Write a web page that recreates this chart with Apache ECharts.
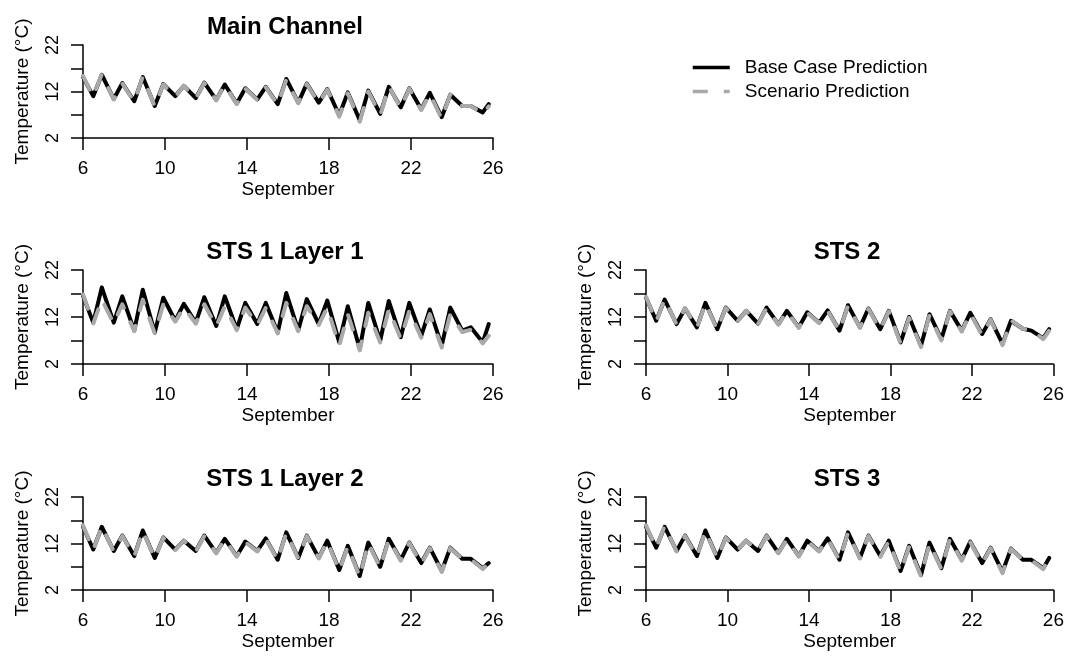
<!DOCTYPE html>
<html><head><meta charset="utf-8">
<script src="https://cdn.jsdelivr.net/npm/echarts@6/dist/echarts.min.js"></script>
<style>html,body{margin:0;padding:0;background:#fff}#c{width:1067px;height:656px}</style>
</head><body><div id="c"></div><script>
// ---- data ----
const days = [6,7,8,9,10,11,12,13,14,15,16,17,18,19,20,21,22,23,24,25];
const startHour = 0, minHour = 12, peakHour = 22, endHour = 19;
const xTicks = [6,10,14,18,22,26];
const yTicks = [2,7,12,17,22];
const yLabels = [2,12,22];
const panelTitles = ['Main Channel','STS 1 Layer 1','STS 2','STS 1 Layer 2','STS 3'];
const seriesNames = ['Base Case Prediction','Scenario Prediction'];
// values: [start, then per day: daily minimum, daily maximum (last = end value)]
const mainBase = [15.1, 11.0,15.6, 10.4,13.8, 9.9,15.1, 8.9,13.6, 11.0,13.2, 10.6,13.9, 10.2,13.5, 9.4,12.7, 10.3,13.0, 9.3,14.7, 9.6,13.7, 9.6,12.5, 6.9,11.8, 5.8,12.2, 7.2,13.0, 8.6,12.7, 8.2,11.7, 6.5,11.3, 8.9,8.9, 7.5,9.3];
const mainScen = [15.3, 10.9,15.7, 10.3,13.7, 9.8,15.2, 8.8,13.5, 10.9,13.2, 10.5,13.8, 10.1,13.4, 9.3,12.6, 10.2,12.9, 9.2,14.5, 9.5,13.6, 9.5,12.4, 6.6,11.6, 5.5,12.0, 6.9,13.1, 8.4,12.6, 8.0,11.5, 6.1,11.4, 8.9,8.9, 7.2,8.8];
const l1Base = [16.5, 10.8,18.3, 10.8,16.4, 9.1,17.8, 8.7,16.1, 11.2,14.8, 10.8,16.2, 10.1,16.4, 9.4,15.0, 10.5,15.0, 8.7,17.1, 9.2,15.8, 10.5,15.5, 6.6,14.3, 5.2,15.0, 7.0,15.4, 7.7,15.0, 8.0,13.6, 5.9,14.0, 9.1,9.8, 6.6,10.5];
const l1Scen = [16.8, 10.6,15.7, 10.6,14.7, 9.0,15.7, 8.5,14.7, 11.0,14.0, 10.6,14.7, 10.0,14.3, 9.2,14.0, 10.3,14.0, 8.5,15.0, 9.0,14.3, 10.3,14.0, 5.9,12.6, 4.9,12.9, 6.6,13.6, 7.4,13.3, 7.6,12.6, 5.5,12.6, 8.8,9.3, 6.4,8.0];
const sts2Base = [16.1, 11.2,15.7, 10.5,13.8, 9.8,15.0, 9.4,14.0, 11.2,13.3, 10.6,14.0, 10.5,13.3, 9.8,13.0, 10.8,13.4, 9.1,14.5, 9.8,13.8, 9.4,13.3, 6.6,12.0, 5.9,12.6, 7.3,13.3, 9.1,12.9, 8.4,11.5, 6.3,11.2, 9.5,9.1, 7.5,9.4];
const sts2Scen = [16.3, 11.0,15.8, 10.4,13.9, 9.7,14.9, 9.3,13.9, 11.1,13.3, 10.5,13.9, 10.4,13.2, 9.7,12.9, 10.7,13.3, 9.0,14.4, 9.7,13.7, 9.3,13.2, 6.3,11.8, 5.6,12.4, 7.0,13.2, 8.9,12.8, 8.1,11.4, 6.0,11.3, 9.5,9.2, 7.3,9.1];
const l2Base = [15.6, 10.7,15.6, 10.4,13.7, 9.3,14.8, 8.9,13.3, 10.7,12.6, 10.4,13.7, 10.0,13.0, 9.3,12.4, 10.4,13.1, 8.5,14.4, 8.9,13.7, 8.9,12.6, 6.3,11.5, 5.0,12.2, 7.0,13.0, 8.5,12.2, 7.8,11.1, 6.1,11.1, 8.7,8.7, 6.7,7.8];
const l2Scen = [15.9, 10.6,15.7, 10.3,13.6, 9.2,14.7, 8.8,13.2, 10.6,12.6, 10.3,13.6, 9.9,12.9, 9.2,12.3, 10.3,13.0, 8.4,14.3, 8.8,13.6, 8.8,12.5, 6.1,11.4, 4.8,12.1, 6.8,12.9, 8.3,12.1, 7.6,11.0, 5.9,11.0, 8.7,8.6, 6.5,7.9];
const sts3Base = [15.6, 11.1,15.6, 10.4,13.7, 9.3,14.8, 8.9,13.3, 10.7,12.6, 10.4,13.7, 10.0,13.0, 9.3,12.6, 10.4,13.1, 8.5,14.4, 8.9,13.7, 9.3,12.6, 6.1,11.5, 5.2,12.2, 6.7,13.0, 8.5,12.4, 7.8,11.1, 5.9,10.9, 8.5,8.5, 6.7,8.9];
const sts3Scen = [15.9, 11.0,15.8, 10.3,13.6, 9.2,14.7, 8.8,13.2, 10.6,12.6, 10.3,13.6, 9.9,12.9, 9.2,12.5, 10.3,13.0, 8.4,14.3, 8.8,13.6, 9.1,12.5, 5.9,11.3, 4.9,12.0, 6.5,12.9, 8.3,12.3, 7.6,11.0, 5.6,10.8, 8.5,8.4, 6.5,9.2];

const panelData = [[mainBase,mainScen],[l1Base,l1Scen],[sts2Base,sts2Scen],[l2Base,l2Scen],[sts3Base,sts3Scen]];

// sample times (day of September)
const times = [days[0] + startHour/24];
days.forEach((d, i) => {
  times.push(d + minHour/24);
  times.push(d + (i === days.length - 1 ? endHour : peakHour)/24);
});
const toPairs = vals => vals.map((v, i) => [times[i], v]);

// ---- layout ----
const FONT = 'Liberation Sans, Arial, sans-serif';
const grids = [
  {left:83, top:45, width:410, height:93},
  {left:83, top:270, width:410, height:94},
  {left:646, top:270, width:408, height:94},
  {left:83, top:497, width:410, height:93},
  {left:646, top:497, width:408, height:93}
];
const axisLineStyle = {color:'#000', width:1.5};
const xAxes = grids.map((g, i) => ({
  gridIndex:i, type:'value', min:6, max:26,
  axisLine:{show:true, onZero:false, lineStyle:axisLineStyle},
  axisTick:{show:true, length:12, customValues:xTicks, lineStyle:axisLineStyle},
  axisLabel:{customValues:xTicks, margin:21, fontSize:19, color:'#000', fontFamily:FONT},
  splitLine:{show:false},
  name:'September', nameLocation:'middle', nameGap:42,
  nameTextStyle:{fontSize:19, color:'#000', fontFamily:FONT}
}));
const yAxes = grids.map((g, i) => ({
  gridIndex:i, type:'value', min:2, max:22,
  axisLine:{show:true, onZero:false, lineStyle:axisLineStyle},
  axisTick:{show:true, length:12, customValues:yTicks, lineStyle:axisLineStyle},
  axisLabel:{customValues:yLabels, rotate:90, margin:21, fontSize:18, color:'#000', fontFamily:FONT},
  splitLine:{show:false},
  name:'Temperature (°C)', nameLocation:'middle', nameRotate:90, nameGap:51,
  nameTextStyle:{fontSize:19, color:'#000', fontFamily:FONT}
}));
const series = [];
panelData.forEach((pair, i) => {
  series.push({
    name:seriesNames[0], type:'line', xAxisIndex:i, yAxisIndex:i,
    data:toPairs(pair[0]), symbol:'none', showSymbol:false, z:2,
    itemStyle:{color:'#000'},
    lineStyle:{color:'#000', width:4, cap:'round', join:'round'}
  });
  series.push({
    name:seriesNames[1], type:'line', xAxisIndex:i, yAxisIndex:i,
    data:toPairs(pair[1]), symbol:'none', showSymbol:false, z:3,
    itemStyle:{color:'#a9a9a9'},
    lineStyle:{color:'#a9a9a9', width:4, type:[15,16], cap:'round', join:'round'}
  });
});
const titles = grids.map((g, i) => ({
  type:'text', x:g.left + g.width/2 - 3, y:g.top - 18,
  style:{text:panelTitles[i], textAlign:'center', textVerticalAlign:'middle',
         font:'bold 24px ' + FONT, fill:'#000'}
}));

const chart = echarts.init(document.getElementById('c'), null, {renderer:'canvas'});
chart.setOption({
  animation:false,
  backgroundColor:'#fff',
  grid:grids,
  xAxis:xAxes,
  yAxis:yAxes,
  legend:{
    orient:'vertical', left:691, top:58, padding:0, itemWidth:37, itemHeight:14, itemGap:5,
    data:seriesNames, selectedMode:false,
    itemStyle:{opacity:0},
    lineStyle:{width:3.5, cap:'butt'},
    textStyle:{fontSize:19, color:'#000', fontFamily:FONT, padding:[0,0,0,10], lineHeight:19}
  },
  graphic:titles,
  series:series
});
</script></body></html>
